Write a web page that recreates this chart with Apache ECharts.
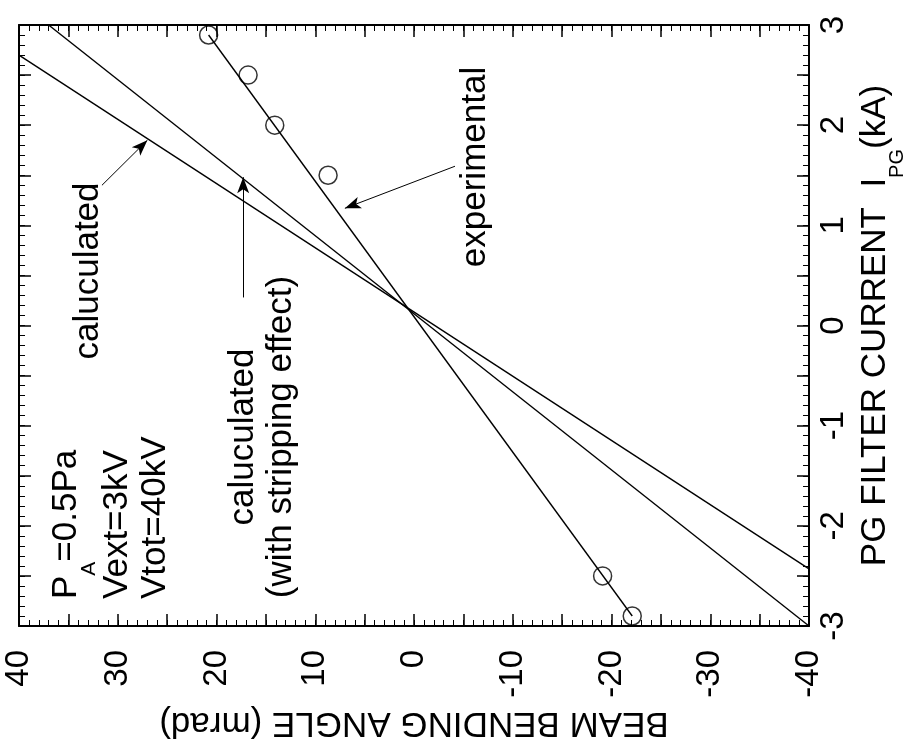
<!DOCTYPE html>
<html>
<head>
<meta charset="utf-8">
<script src="https://cdn.jsdelivr.net/npm/echarts@6/dist/echarts.min.js"></script>
<style>
  html, body { margin: 0; padding: 0; background: #fff; }
  #chart { width: 911px; height: 747px; }
</style>
</head>
<body>
<div id="chart"></div>
<script>
// Measured points: PG filter current (kA) and beam bending angle (mrad)
const expCurrent = [2.9, 2.5, 2.0, 1.5, -2.5, -2.9];
const expAngle = [20.8, 16.8, 14.1, 8.7, -19.1, -22.1];

// Straight line through the measurements (end points)
const fitCurrent = [-2.9, 2.9];
const fitAngle = [-22.1, 20.8];

// Calculated deflection (end points)
const calcCurrent = [2.70, -2.43];
const calcAngle = [40, -40];

// Calculated deflection including the stripping effect (end points)
const stripCurrent = [3.0, -3.0];
const stripAngle = [37.0, -40];

// Labelled ticks on both axes
const angleTickLabels = [-40, -30, -20, -10, 0, 10, 20, 30, 40];
const currentTickLabels = [-3, -2, -1, 0, 1, 2, 3];

const FONT = '"Liberation Sans", Arial, Helvetica, sans-serif';
const pairs = (xs, ys) => xs.map((x, i) => [x, ys[i]]);
const near = (v, list) => list.some(t => Math.abs(t - v) < 1e-6);

const frameLine = { show: true, onZero: false, lineStyle: { color: '#000', width: 2 } };
const noLine = { show: false, onZero: false };
const tick = len => ({ show: true, inside: true, length: len, lineStyle: { color: '#000', width: len > 8 ? 1.5 : 1 } });

// Horizontal axes: bending angle, 40 on the left down to -40 on the right.
// Long ticks every 5 mrad, short ticks every 1 mrad, on the bottom and top edges.
const angleAxis = (position, interval, len, extra) => Object.assign({
  type: 'value', min: -40, max: 40, interval: interval, inverse: true, position: position,
  axisLine: interval === 5 ? frameLine : noLine, axisTick: tick(len),
  axisLabel: { show: false }, splitLine: { show: false }
}, extra || {});

// Vertical axes: filter current, -3 at the bottom to 3 at the top.
// Long ticks every 0.5 kA, short ticks every 0.1 kA, on the right and left edges.
const currentAxis = (position, interval, len, extra) => Object.assign({
  type: 'value', min: -3, max: 3, interval: interval, position: position,
  axisLine: interval === 0.5 ? frameLine : noLine, axisTick: tick(len),
  axisLabel: { show: false }, splitLine: { show: false }
}, extra || {});

const arrowLine = { color: '#000', width: 1, type: 'solid' };

const option = {
  animation: false,
  backgroundColor: '#fff',
  grid: { left: 19, right: 102, top: 25, bottom: 121, containLabel: false, outerBoundsMode: 'none' },
  xAxis: [
    angleAxis('bottom', 5, 12, {
      axisLabel: {
        show: true, rotate: 90, margin: 24, padding: [10, 0, 0, 0],
        fontSize: 33, fontFamily: FONT, color: '#000',
        formatter: v => near(v, angleTickLabels) ? String(Math.round(v)) : ''
      },
      name: 'BEAM BENDING ANGLE (mrad)',
      nameLocation: 'middle', nameRotate: 180, nameGap: 74,
      nameTextStyle: { fontSize: 35, fontFamily: FONT, color: '#000' }
    }),
    angleAxis('top', 5, 12),
    angleAxis('bottom', 1, 6),
    angleAxis('top', 1, 6)
  ],
  yAxis: [
    currentAxis('right', 0.5, 12, {
      axisLabel: {
        show: true, rotate: 90, margin: 8,
        fontSize: 33, fontFamily: FONT, color: '#000',
        formatter: v => near(v, currentTickLabels) ? String(Math.round(v)) : ''
      },
      name: '{n|PG FILTER CURRENT  I}{s|PG}{n|(kA)}',
      nameLocation: 'middle', nameRotate: 90, nameGap: 18,
      nameTextStyle: {
        color: '#000',
        rich: {
          n: { fontSize: 35, fontFamily: FONT, color: '#000', lineHeight: 40, verticalAlign: 'top' },
          s: { fontSize: 20, fontFamily: FONT, color: '#000', padding: [30, 0, 0, 0], verticalAlign: 'bottom' }
        }
      }
    }),
    currentAxis('left', 0.5, 12),
    currentAxis('right', 0.1, 6),
    currentAxis('left', 0.1, 6)
  ],
  series: [
    {
      name: 'experimental fit', type: 'line', xAxisIndex: 0, yAxisIndex: 0,
      data: pairs(fitAngle, fitCurrent), symbol: 'none',
      lineStyle: { color: '#000', width: 1.4 },
      markLine: {
        silent: true, symbol: ['none', 'arrow'], symbolSize: [9, 16],
        label: { show: false }, lineStyle: arrowLine,
        data: [[{ coord: [-4.15, 1.59] }, { coord: [7.0, 1.17] }]]
      }
    },
    {
      name: 'calculated', type: 'line', xAxisIndex: 0, yAxisIndex: 0,
      data: pairs(calcAngle, calcCurrent), symbol: 'none',
      lineStyle: { color: '#000', width: 1.4 },
      markLine: {
        silent: true, symbol: ['none', 'arrow'], symbolSize: [9, 16],
        label: { show: false }, lineStyle: arrowLine,
        data: [[{ coord: [31.6, 1.40] }, { coord: [27.0, 1.85] }]]
      }
    },
    {
      name: 'calculated (with stripping effect)', type: 'line', xAxisIndex: 0, yAxisIndex: 0,
      data: pairs(stripAngle, stripCurrent), symbol: 'none',
      lineStyle: { color: '#000', width: 1.4 },
      markLine: {
        silent: true, symbol: ['none', 'arrow'], symbolSize: [9, 16],
        label: { show: false }, lineStyle: arrowLine,
        data: [[{ coord: [17.3, 0.28] }, { coord: [17.3, 1.48] }]]
      }
    },
    {
      name: 'experimental', type: 'scatter', xAxisIndex: 0, yAxisIndex: 0,
      data: pairs(expAngle, expCurrent), symbol: 'circle', symbolSize: 18,
      itemStyle: { color: 'rgba(0,0,0,0)', borderColor: '#000', borderWidth: 1.5 }
    }
  ],
  graphic: [
    {
      type: 'text', x: 88, y: 271, rotation: Math.PI / 2, silent: true,
      style: { text: 'caluculated', font: '35px ' + FONT, fill: '#000',
               align: 'center', verticalAlign: 'middle', textAlign: 'center', textVerticalAlign: 'middle' }
    },
    {
      type: 'text', x: 262, y: 437, rotation: Math.PI / 2, silent: true,
      style: { text: 'caluculated\n(with stripping effect)', font: '35px ' + FONT, fill: '#000', lineHeight: 38,
               align: 'center', verticalAlign: 'middle', textAlign: 'center', textVerticalAlign: 'middle' }
    },
    {
      type: 'text', x: 475, y: 167, rotation: Math.PI / 2, silent: true,
      style: { text: 'experimental', font: '35px ' + FONT, fill: '#000',
               align: 'center', verticalAlign: 'middle', textAlign: 'center', textVerticalAlign: 'middle' }
    },
    {
      type: 'text', x: 49, y: 599, rotation: Math.PI / 2, silent: true,
      style: {
        text: '{n|P}{s|A}{n|=0.5Pa}\n{n|Vext=3kV}\n{n|Vtot=40kV}',
        fill: '#000', align: 'left', verticalAlign: 'top', textAlign: 'left', textVerticalAlign: 'top',
        rich: {
          n: { font: '35px ' + FONT, fill: '#000', lineHeight: 38, verticalAlign: 'top' },
          s: { font: '21px ' + FONT, fill: '#000', padding: [30, 0, 0, 0], verticalAlign: 'bottom' }
        }
      }
    }
  ]
};

const chart = echarts.init(document.getElementById('chart'), null, { renderer: 'canvas' });
chart.setOption(option);
</script>
</body>
</html>
